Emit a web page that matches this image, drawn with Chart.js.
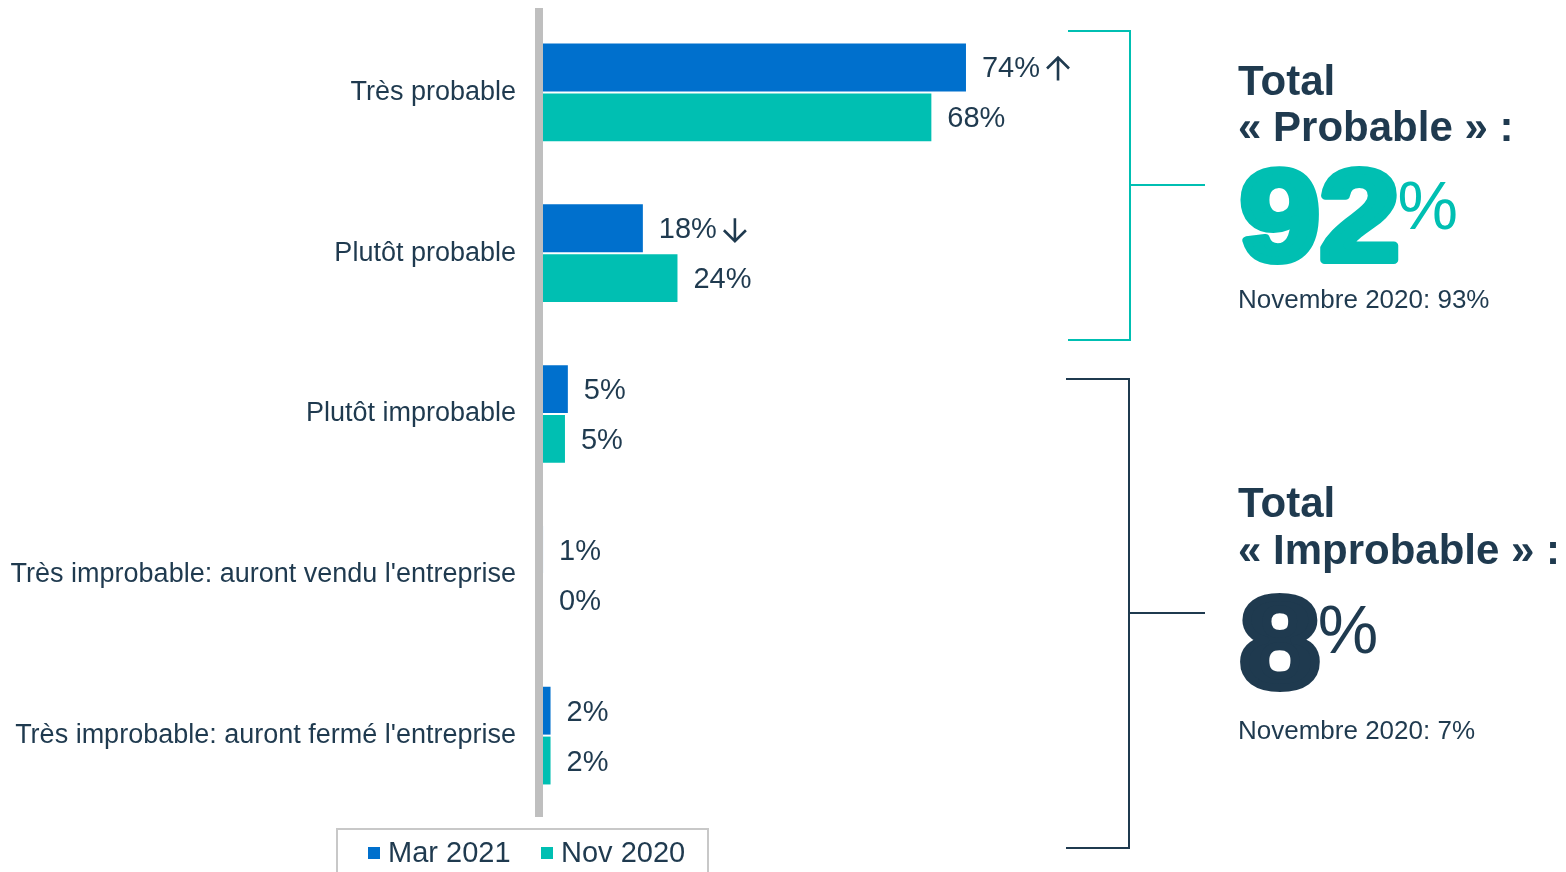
<!DOCTYPE html>
<html>
<head>
<meta charset="utf-8">
<script src="https://cdn.jsdelivr.net/npm/chart.js@4/dist/chart.umd.min.js"></script>
<style>
  html, body { margin: 0; padding: 0; background: #fff; }
  #wrap { position: relative; width: 1566px; height: 872px; overflow: hidden; }
  #chart { position: absolute; left: 0; top: 0; }
  #legend {
    position: absolute; left: 336px; top: 828px; width: 369px; height: 60px;
    border: 2px solid #c8c8c8; border-bottom: none;
    font-family: 'Liberation Sans', Arial, sans-serif; font-size: 29px; color: #1f3a4f;
  }
  .item { position: absolute; top: 6px; white-space: nowrap; }
  .sw { display: inline-block; width: 12px; height: 12px; margin-right: 8px; vertical-align: 3px; }
</style>
</head>
<body>
<div id="wrap">
  <canvas id="chart" width="1566" height="872"></canvas>
  <div id="legend">
    <span class="item" style="left:30px"><span class="sw" style="background:#0070cd"></span>Mar 2021</span>
    <span class="item" style="left:203px"><span class="sw" style="background:#00bfb2"></span>Nov 2020</span>
  </div>
</div>
<script>
  // Data
  const categories = [
    'Très probable',
    'Plutôt probable',
    'Plutôt improbable',
    "Très improbable: auront vendu l'entreprise",
    "Très improbable: auront fermé l'entreprise"
  ];
  const mar2021 = [74, 18, 5, 0.7, 2];
  const nov2020 = [68, 24, 4.5, 0, 2];
  const mar2021Arrows = ['up', 'down', '', '', ''];

  const BLUE = '#0070cd';
  const TEAL = '#00bfb2';
  const NAVY = '#1f3a4f';
  const FONT = "'Liberation Sans', Arial, sans-serif";

  // Value labels at the end of each bar (+ arrows for changes)
  const valueLabels = {
    id: 'valueLabels',
    afterDatasetsDraw(chart) {
      const ctx = chart.ctx;
      const left = chart.chartArea.left + 4;
      ctx.save();
      ctx.font = '29px ' + FONT;
      ctx.fillStyle = NAVY;
      ctx.strokeStyle = NAVY;
      ctx.textBaseline = 'middle';
      chart.data.datasets.forEach((ds, di) => {
        const meta = chart.getDatasetMeta(di);
        meta.data.forEach((bar, i) => {
          const txt = Math.round(ds.data[i]) + '%';
          const x = Math.max(bar.x, left) + 16;
          const y = bar.y + 2;
          ctx.fillText(txt, x, y);
          const dir = di === 0 ? mar2021Arrows[i] : '';
          if (dir) {
            const ax = x + ctx.measureText(txt).width + 18;
            const top = y - 12, bot = y + 11;
            ctx.lineWidth = 2.6;
            ctx.beginPath();
            ctx.moveTo(ax, top);
            ctx.lineTo(ax, bot);
            if (dir === 'up') {
              ctx.moveTo(ax - 11, top + 11); ctx.lineTo(ax, top); ctx.lineTo(ax + 11, top + 11);
            } else {
              ctx.moveTo(ax - 11, bot - 11); ctx.lineTo(ax, bot); ctx.lineTo(ax + 11, bot - 11);
            }
            ctx.stroke();
          }
        });
      });
      ctx.restore();
    }
  };

  // Right-hand summary: brackets and totals
  const sidePanel = {
    id: 'sidePanel',
    afterDraw(chart) {
      const ctx = chart.ctx;
      ctx.save();
      ctx.lineWidth = 2;
      // teal bracket
      ctx.strokeStyle = TEAL;
      ctx.beginPath();
      ctx.moveTo(1068, 31); ctx.lineTo(1130, 31); ctx.lineTo(1130, 340); ctx.lineTo(1068, 340);
      ctx.moveTo(1130, 185); ctx.lineTo(1205, 185);
      ctx.stroke();
      // navy bracket
      ctx.strokeStyle = NAVY;
      ctx.beginPath();
      ctx.moveTo(1066, 379); ctx.lineTo(1129, 379); ctx.lineTo(1129, 848); ctx.lineTo(1066, 848);
      ctx.moveTo(1129, 613); ctx.lineTo(1205, 613);
      ctx.stroke();

      ctx.textBaseline = 'alphabetic';
      ctx.fillStyle = NAVY;
      ctx.font = 'bold 42px ' + FONT;
      ctx.fillText('Total', 1238, 95);
      ctx.fillText('« Probable » :', 1238, 141);
      ctx.fillText('Total', 1238, 517);
      ctx.fillText('« Improbable » :', 1238, 564);

      ctx.font = '26px ' + FONT;
      ctx.fillText('Novembre 2020: 93%', 1238, 308);
      ctx.fillText('Novembre 2020: 7%', 1238, 739);

      // big numbers (heavy, slightly widened)
      function big(num, color, baseY, pctBase) {
        const sx = 1.12;
        ctx.fillStyle = color;
        ctx.strokeStyle = color;
        ctx.font = 'bold 128px ' + FONT;
        const w = ctx.measureText(num).width;
        ctx.save();
        ctx.translate(1240, baseY);
        ctx.scale(sx, 1);
        ctx.lineWidth = 8;
        ctx.lineJoin = 'round';
        ctx.fillText(num, 0, 0);
        ctx.strokeText(num, 0, 0);
        ctx.restore();
        ctx.font = '68px ' + FONT;
        ctx.fillText('%', 1240 + w * sx - 2, pctBase);
      }
      big('92', TEAL, 260, 229);
      big('8', NAVY, 687, 653);
      ctx.restore();
    }
  };

  new Chart(document.getElementById('chart'), {
    type: 'bar',
    data: {
      labels: categories,
      datasets: [
        { label: 'Mar 2021', data: mar2021, backgroundColor: BLUE },
        { label: 'Nov 2020', data: nov2020, backgroundColor: TEAL }
      ]
    },
    options: {
      indexAxis: 'y',
      responsive: false,
      animation: false,
      devicePixelRatio: 1,
      categoryPercentage: 0.62,
      barPercentage: 0.96,
      layout: { padding: { left: 0, right: 450, top: 12, bottom: 56 } },
      plugins: {
        legend: { display: false },
        tooltip: { enabled: false }
      },
      scales: {
        x: {
          display: false,
          min: 0,
          max: 100
        },
        y: {
          afterFit: scale => {
            scale.width = 539;
            scale.paddingTop = 0;
            scale.paddingBottom = 0;
          },
          grid: { display: false, drawTicks: false },
          border: { display: true, color: '#bfbfbf', width: 8, z: 1 },
          ticks: {
            color: NAVY,
            padding: 23,
            font: { family: FONT, size: 27 }
          }
        }
      }
    },
    plugins: [valueLabels, sidePanel]
  });
</script>
</body>
</html>
